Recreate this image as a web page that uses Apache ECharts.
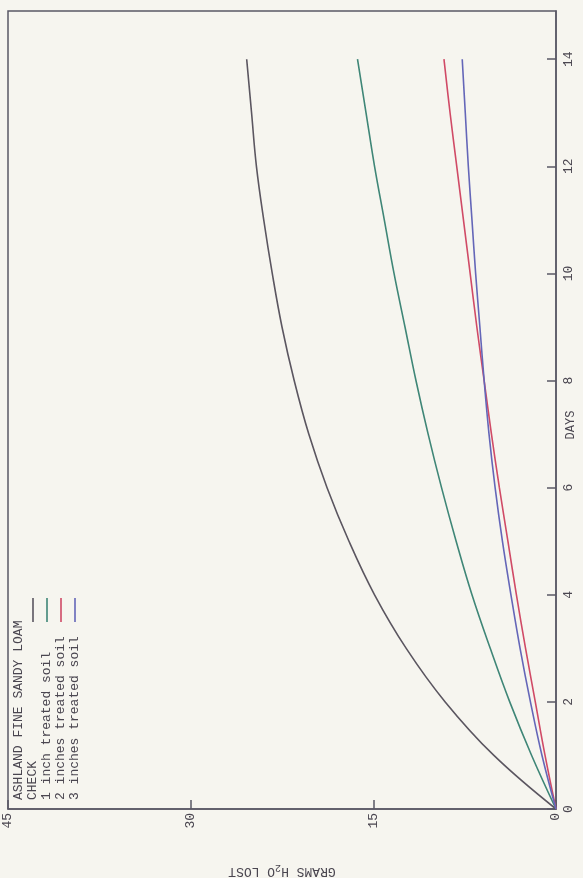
<!DOCTYPE html>
<html>
<head>
<meta charset="utf-8">
<script src="https://cdn.jsdelivr.net/npm/echarts@6/dist/echarts.min.js"></script>
<style>
html,body{margin:0;padding:0;background:#f6f5ef;}
#chart{width:583px;height:878px;}
</style>
</head>
<body>
<div id="chart"></div>
<script>
// Days (original horizontal axis, drawn vertically here)
const days = [0, 1, 2, 3, 4, 5, 6, 7, 8, 9, 10, 11, 12, 13, 14];
// Grams H2O lost for each treatment
const checkVals  = [0, 5.1, 9.1, 12.3, 14.9, 17.0, 18.8, 20.3, 21.5, 22.5, 23.3, 24.0, 24.6, 25.0, 25.4];
const inch1Vals  = [0, 2.0, 3.8, 5.4, 6.9, 8.2, 9.4, 10.5, 11.5, 12.4, 13.3, 14.1, 14.9, 15.6, 16.3];
const inch2Vals  = [0, 0.9, 1.7, 2.5, 3.25, 3.95, 4.65, 5.3, 5.9, 6.5, 7.05, 7.6, 8.15, 8.7, 9.2];
const inch3Vals  = [0, 1.15, 2.1, 2.95, 3.7, 4.4, 5.0, 5.5, 5.9, 6.25, 6.6, 6.9, 7.2, 7.45, 7.7];
const seriesNames = ['CHECK', '1 inch treated soil', '2 inches treated soil', '3 inches treated soil'];
const legendTitle = 'ASHLAND FINE SANDY LOAM';
const gramTicks = [0, 15, 30, 45];
const dayTicks = [0, 2, 4, 6, 8, 10, 12, 14];

const colors = ['#5b5660', '#3f8677', '#d04a66', '#6466b8'];
const FONT = '"Liberation Mono", "DejaVu Sans Mono", monospace';
const axisColor = '#5a5866';
const textColor = '#4a4650';

const allVals = [checkVals, inch1Vals, inch2Vals, inch3Vals];
const series = allVals.map((vals, i) => ({
  name: seriesNames[i],
  type: 'line',
  smooth: 0.4,
  symbol: 'none',
  data: vals.map((g, k) => [g, days[k]]),
  lineStyle: { color: colors[i], width: 1.6 },
  itemStyle: { color: colors[i] }
}));

const chart = echarts.init(document.getElementById('chart'), null, { renderer: 'canvas' });

// Legend drawn rotated (whole figure is rotated 90° CCW)
const legendX = [19, 33, 47, 61, 75];
const legendTexts = [legendTitle].concat(seriesNames);
const graphics = [];
legendTexts.forEach((t, i) => {
  graphics.push({
    type: 'text',
    x: legendX[i], y: 800,
    rotation: Math.PI / 2,
    style: { text: t, font: '13px ' + FONT, fill: textColor, textAlign: 'left', textVerticalAlign: 'middle' }
  });
  if (i > 0) {
    graphics.push({
      type: 'line',
      shape: { x1: legendX[i], y1: 598, x2: legendX[i], y2: 622 },
      style: { stroke: colors[i - 1], lineWidth: 1.6 }
    });
  }
});

chart.setOption({
  backgroundColor: '#f6f5ef',
  animation: false,
  grid: { left: 8, right: 27, top: 11, bottom: 69, outerBoundsMode: 'none', containLabel: false,
          show: true, borderColor: axisColor, borderWidth: 1.5, backgroundColor: 'transparent' },
  xAxis: {
    type: 'value', min: gramTicks[0], max: gramTicks[gramTicks.length - 1], interval: 15,
    inverse: true, position: 'bottom',
    name: 'GRAMS H{sub|2}O LOST', nameLocation: 'middle', nameGap: 54, nameRotate: 180, nameMoveOverlap: false,
    nameTextStyle: { fontFamily: FONT, fontSize: 13, color: textColor,
      rich: { sub: { fontFamily: FONT, fontSize: 10, color: textColor, verticalAlign: 'bottom', padding: [6, 0, 0, 0] } } },
    axisLine: { show: true, lineStyle: { color: axisColor, width: 1.5 } },
    axisTick: { show: true, inside: true, length: 9, lineStyle: { color: axisColor, width: 1.5 } },
    axisLabel: { rotate: 90, margin: 4, fontFamily: FONT, fontSize: 13, color: textColor },
    splitLine: { show: false }
  },
  yAxis: {
    type: 'value', min: dayTicks[0], max: 14.9, interval: 2,
    position: 'right',
    name: 'DAYS', nameLocation: 'middle', nameGap: 9, nameRotate: 90, nameMoveOverlap: false,
    nameTextStyle: { fontFamily: FONT, fontSize: 12, color: textColor, padding: [0, 30, 0, 0] },
    axisLine: { show: true, lineStyle: { color: axisColor, width: 1.5 } },
    axisTick: { show: true, inside: true, length: 9, lineStyle: { color: axisColor, width: 1.5 } },
    axisLabel: { rotate: 90, margin: 6, fontFamily: FONT, fontSize: 13, color: textColor, showMaxLabel: false },
    splitLine: { show: false }
  },
  series: series,
  graphic: graphics
});
</script>
</body>
</html>
